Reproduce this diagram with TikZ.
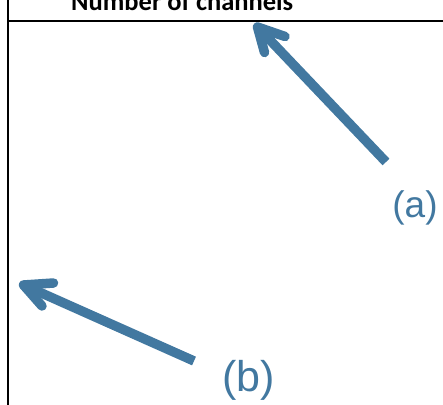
\documentclass[tikz,border=0pt]{standalone}
\usepackage{fontspec}
\newfontfamily\headfont{Carlito}
\newfontfamily\tagfont{Liberation Sans}
\definecolor{arrowblue}{RGB}{66,120,160}
\begin{document}
\begin{tikzpicture}[x=1pt,y=-1pt,
  frame/.style={draw=black,line width=2pt},
  shaft/.style={draw=arrowblue,line width=9.5pt,line cap=butt},
  barb/.style={draw=arrowblue,line width=9.5pt,line cap=round,line join=round},
  tag/.style={text=arrowblue,inner sep=0pt,anchor=base,font=\tagfont}]
\useasboundingbox (0,0) rectangle (443,404);

% table header and its rules
\node[anchor=base west,inner sep=0pt,font=\headfont\bfseries\fontsize{26.5}{30}\selectfont]
  (head) at (71,10.5) {Number of channels};
\coordinate (vtop) at (8.3,-2);
\coordinate (vbot) at (8.3,406);
\coordinate (hleft) at (8.3,21);
\coordinate (hright) at (445,21);
\draw[frame] (vtop) -- (vbot);
\draw[frame] (hleft) -- (hright);

% labels
\node[tag,font=\tagfont\fontsize{37}{40}\selectfont] (la) at (415,217.5) {(a)};
\node[tag,font=\tagfont\fontsize{43}{46}\selectfont] (lb) at (248.5,391.5) {(b)};

% arrow (a)
\coordinate (ta) at (386,162);
\coordinate (ha) at (257.5,27);
\coordinate (a1) at (285,36.5);
\coordinate (a2) at (264.5,52.5);
\draw[shaft] (ta) -- (ha);
\draw[barb] (a1) -- (ha) -- (a2);

% arrow (b)
\coordinate (tb) at (194,361);
\coordinate (hb) at (23.5,285);
\coordinate (b1) at (53.5,283);
\coordinate (b2) at (42,306);
\draw[shaft] (tb) -- (hb);
\draw[barb] (b1) -- (hb) -- (b2);
\end{tikzpicture}
\end{document}
